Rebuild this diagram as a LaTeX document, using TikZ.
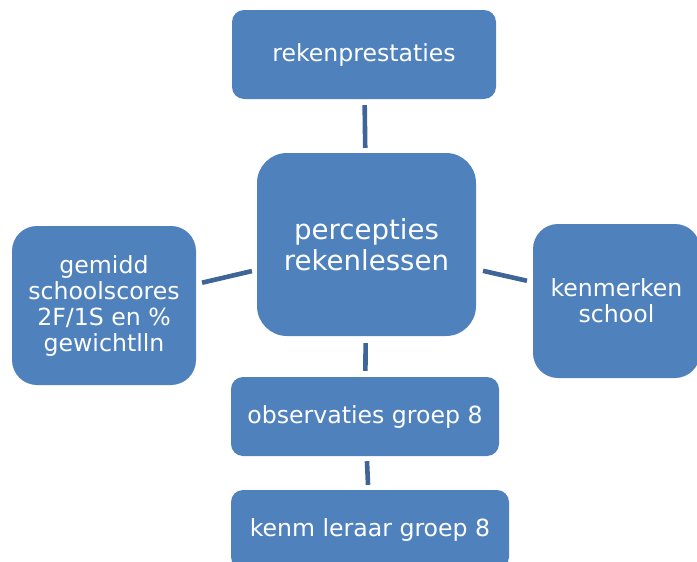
\documentclass[tikz,border=0pt]{standalone}
\usepackage{fontspec}
\setmainfont{DejaVu Sans}
\definecolor{boxblue}{HTML}{4F81BD}
\definecolor{lineblue}{HTML}{3D6597}
\tikzset{
  box/.style={fill=boxblue, text=white, align=center, inner sep=0pt,
    font=\fontsize{23.6}{26}\selectfont},
  conn/.style={draw=lineblue, line width=4.6pt}
}
\begin{document}
\begin{tikzpicture}[x=1pt,y=-1pt]
\useasboundingbox (0,0) rectangle (697,562);
\clip (0,0) rectangle (697,562);
\node[box, minimum width=264pt, minimum height=89pt, rounded corners=12pt] (top) at (364,54.5) {rekenprestaties};
\node[box, minimum width=219pt, minimum height=183pt, rounded corners=30pt, font=\fontsize{27.6}{31}\selectfont] (mid) at (366.5,244.5) {percepties\\rekenlessen};
\node[box, minimum width=184pt, minimum height=159pt, rounded corners=25pt] (left) at (104,305.5) {gemidd\\schoolscores\\2F/1S en \%\\gewichtlln};
\node[box, minimum width=167pt, minimum height=154pt, rounded corners=25pt] (right) at (616.5,301) {kenmerken\\school};
\node[box, minimum width=268pt, minimum height=79pt, rounded corners=12pt] (obs) at (365,416.5) {observaties groep 8};
\node[box, minimum width=278pt, minimum height=79pt, rounded corners=12pt] (ken) at (370,529.5) {kenm leraar groep 8};
\draw[conn, shorten <=6pt, shorten >=5pt] (top) -- (mid);
\draw[conn, shorten <=6pt, shorten >=5pt] (left) -- (mid);
\draw[conn, shorten <=7pt, shorten >=6pt] (mid) -- (right);
\draw[conn, shorten <=7pt, shorten >=6pt] (mid) -- (obs);
\draw[conn, shorten <=5pt, shorten >=5pt] (obs) -- (ken);
\end{tikzpicture}
\end{document}
